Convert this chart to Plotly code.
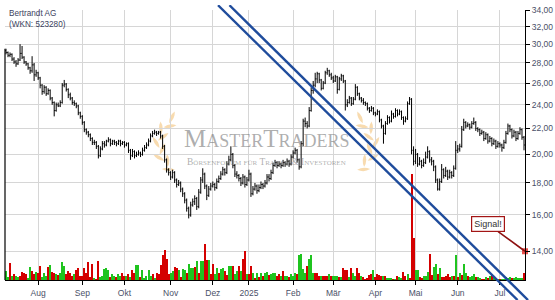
import math
import pandas as pd
import plotly.graph_objects as go

# ---------------- data ----------------
holidays = ["2024-12-24", "2024-12-25", "2024-12-26", "2024-12-31",
            "2025-01-01", "2025-04-18", "2025-04-21", "2025-05-01"]

close = [
    29.1, 28.8, 28.9, 28.4, 28.1, 27.9, 28.3, 29.0, 28.6, 28.1,
    27.9, 27.5, 27.2, 27.8, 26.8, 27.0, 26.5, 25.8, 25.2, 25.6,
    25.0, 25.3, 24.6, 24.2, 23.5, 24.0, 23.9, 24.2, 25.8, 25.9,
    25.4, 24.9, 24.6, 24.2, 24.1, 23.9, 23.3, 23.0, 22.5, 21.9,
    21.7, 21.5, 21.2, 20.9, 20.9, 20.6, 19.9, 20.4, 20.8, 20.7,
    21.0, 21.1, 20.8, 21.0, 20.9, 20.8, 21.0, 20.8, 20.9, 20.7,
    20.8, 20.3, 19.9, 20.2, 19.9, 20.0, 20.1, 20.0, 20.3, 20.5,
    20.7, 21.0, 21.4, 21.6, 21.7, 21.6, 21.7, 21.4, 20.6, 19.6,
    18.9, 18.7, 18.4, 18.7, 18.2, 17.9, 18.0, 17.6, 17.3, 16.9,
    16.4, 16.0, 16.6, 16.8, 17.0, 16.5, 17.4, 18.2, 18.6, 17.8,
    17.2, 17.6, 17.8, 17.9, 17.7, 18.1, 18.3, 18.6, 18.9, 18.7,
    19.3, 19.6, 20.0, 19.2, 18.6, 18.5, 18.3, 18.0, 18.4, 17.9,
    18.2, 18.6, 17.3, 17.6, 17.8, 17.5, 17.7, 17.9, 17.8, 18.0,
    18.4, 18.3, 18.7, 19.2, 19.4, 19.2, 19.3, 19.2, 19.4, 19.3,
    19.5, 19.3, 19.8, 20.1, 20.3, 19.6, 19.1, 20.8, 22.6, 22.4,
    22.2, 23.5, 25.3, 25.8, 26.4, 26.9, 26.3, 25.5, 26.0, 27.0,
    27.2, 26.8, 26.5, 26.2, 26.6, 25.4, 26.4, 26.7, 26.2, 24.0,
    24.2, 24.6, 24.1, 24.5, 25.6, 25.0, 24.6, 24.4, 24.2, 24.1,
    23.7, 23.5, 23.7, 23.3, 23.2, 23.4, 22.7, 22.2, 21.6, 22.4,
    22.9, 22.6, 23.2, 23.0, 23.5, 23.2, 23.4, 22.9, 22.6, 22.8,
    24.1, 24.5, 20.3, 19.5, 20.0, 19.3, 19.5, 19.2, 19.4, 19.8,
    20.2, 19.6, 19.5, 19.1, 18.2, 17.6, 18.1, 18.9, 18.5, 18.8,
    18.4, 18.7, 18.5, 19.0, 20.3, 20.4, 20.6, 21.9, 22.5, 22.2,
    22.3, 22.1, 22.4, 22.5, 22.0, 21.9, 21.6, 21.7, 21.2, 21.5,
    21.0, 21.2, 20.8, 21.0, 20.6, 20.8, 20.7, 20.5, 20.9, 21.6,
    22.2, 21.9, 21.4, 21.7, 21.2, 21.6, 21.9, 21.3, 20.7,
]

high = [
    29.5, 29.2, 29.1, 29.0, 28.6, 28.3, 28.5, 30.0, 29.8, 28.7,
    28.2, 28.0, 27.6, 28.7, 28.0, 27.3, 27.1, 26.6, 25.9, 25.8,
    25.7, 25.5, 25.4, 24.7, 24.3, 24.2, 24.2, 24.4, 26.0, 26.3,
    26.0, 25.5, 25.1, 24.7, 24.4, 24.2, 24.0, 23.4, 23.1, 22.6,
    22.0, 21.8, 21.6, 21.3, 21.1, 21.0, 20.7, 20.6, 21.0, 21.0,
    21.1, 21.3, 21.2, 21.1, 21.1, 21.0, 21.1, 21.1, 21.0, 21.0,
    20.9, 20.9, 20.4, 20.4, 20.3, 20.2, 20.3, 20.2, 20.5, 20.7,
    20.9, 21.2, 21.6, 21.8, 21.9, 21.8, 21.8, 21.8, 21.5, 20.7,
    19.7, 19.0, 18.8, 18.9, 18.8, 18.3, 18.2, 18.1, 17.7, 17.4,
    17.0, 16.5, 16.8, 17.0, 17.2, 17.1, 17.6, 18.4, 19.0, 18.7,
    17.9, 17.8, 18.0, 18.1, 18.0, 18.3, 18.5, 18.8, 19.1, 19.0,
    19.5, 19.9, 20.6, 20.1, 19.3, 18.8, 18.6, 18.4, 18.6, 18.5,
    18.4, 18.9, 18.7, 17.8, 18.0, 17.9, 17.9, 18.1, 18.0, 18.2,
    18.6, 18.6, 18.9, 19.4, 19.6, 19.5, 19.5, 19.4, 19.6, 19.5,
    19.7, 19.6, 20.0, 20.3, 20.5, 20.4, 19.7, 21.0, 22.8, 22.9,
    22.6, 23.8, 25.6, 26.2, 27.0, 27.1, 27.0, 26.4, 26.2, 27.2,
    27.5, 27.3, 27.0, 26.7, 26.8, 26.7, 26.6, 26.9, 26.8, 26.3,
    24.5, 24.8, 24.7, 24.7, 25.9, 25.7, 25.1, 24.7, 24.6, 24.3,
    24.2, 23.8, 23.9, 23.8, 23.4, 23.6, 23.5, 22.8, 22.3, 22.6,
    23.1, 23.0, 23.5, 23.3, 23.7, 23.6, 23.6, 23.5, 23.0, 23.0,
    24.3, 24.7, 24.6, 20.6, 20.4, 20.1, 19.8, 19.6, 19.7, 20.2,
    20.6, 20.3, 19.8, 19.6, 19.2, 18.3, 18.3, 19.3, 19.0, 19.1,
    18.9, 18.9, 18.8, 19.2, 21.0, 20.7, 20.8, 22.2, 22.8, 22.6,
    22.5, 22.4, 22.6, 22.9, 22.6, 22.1, 22.0, 21.9, 21.8, 21.7,
    21.6, 21.4, 21.3, 21.2, 21.1, 21.0, 20.9, 20.8, 21.1, 21.8,
    22.4, 22.3, 22.0, 21.9, 21.8, 21.8, 22.1, 22.0, 21.4,
]

low = [
    28.9, 28.6, 28.6, 28.2, 27.9, 27.6, 27.8, 28.2, 28.4, 27.9,
    27.7, 27.3, 26.9, 27.0, 26.2, 26.6, 26.3, 25.5, 24.9, 25.0,
    24.8, 24.9, 24.4, 24.0, 23.0, 23.4, 23.8, 23.8, 24.1, 25.6,
    25.2, 24.6, 24.4, 24.0, 23.9, 23.7, 23.1, 22.8, 22.3, 21.7,
    21.5, 21.3, 21.0, 20.7, 20.7, 20.4, 19.7, 19.8, 20.3, 20.5,
    20.6, 20.9, 20.6, 20.7, 20.7, 20.6, 20.7, 20.6, 20.7, 20.5,
    20.6, 20.1, 19.6, 19.8, 19.7, 19.8, 19.9, 19.8, 19.9, 20.2,
    20.4, 20.6, 20.9, 21.3, 21.5, 21.4, 21.5, 21.2, 20.4, 19.4,
    18.7, 18.5, 18.2, 18.3, 18.0, 17.7, 17.8, 17.4, 17.1, 16.7,
    16.2, 15.8, 15.9, 16.5, 16.6, 16.3, 16.4, 17.3, 18.0, 17.6,
    16.9, 17.1, 17.5, 17.7, 17.5, 17.6, 18.0, 18.2, 18.5, 18.5,
    18.6, 19.2, 19.5, 19.0, 18.4, 18.3, 18.1, 17.8, 17.9, 17.7,
    17.8, 18.1, 17.1, 17.2, 17.5, 17.3, 17.4, 17.6, 17.6, 17.7,
    17.9, 18.1, 18.2, 18.6, 19.1, 19.0, 19.1, 19.0, 19.1, 19.1,
    19.2, 19.1, 19.2, 19.7, 20.0, 19.4, 18.9, 19.0, 20.6, 22.1,
    22.0, 22.1, 23.4, 25.0, 25.6, 26.0, 26.0, 25.3, 25.4, 25.9,
    26.8, 26.6, 26.3, 26.0, 26.1, 25.0, 25.3, 26.2, 26.0, 23.5,
    23.8, 24.1, 23.9, 24.0, 24.4, 24.8, 24.4, 24.2, 24.0, 23.9,
    23.5, 23.3, 23.4, 23.1, 23.0, 23.1, 22.5, 22.0, 20.8, 21.5,
    22.3, 22.4, 22.5, 22.8, 22.9, 23.0, 23.1, 22.7, 22.3, 22.5,
    22.7, 24.0, 20.0, 19.2, 19.3, 19.1, 19.2, 19.0, 19.1, 19.3,
    19.7, 19.4, 19.2, 18.8, 18.0, 17.5, 17.5, 18.0, 18.3, 18.4,
    18.2, 18.3, 18.3, 18.4, 18.9, 20.1, 20.2, 20.5, 21.8, 22.0,
    22.1, 21.9, 22.0, 22.3, 21.8, 21.7, 21.4, 21.5, 21.0, 21.1,
    20.8, 20.9, 20.6, 20.7, 20.4, 20.5, 20.5, 20.2, 20.4, 20.8,
    21.5, 21.7, 21.2, 21.3, 21.0, 21.1, 21.5, 21.1, 20.3,
]

first_open = 29.3

volume_k = [
    10, 3, 18, 5, 7, 5, 3, 4, 9, 8,
    7, 2, 14, 10, 7, 9, 8, 15, 3, 8,
    4, 14, 16, 9, 8, 7, 6, 8, 19, 15,
    7, 10, 8, 5, 7, 11, 13, 4, 5, 13,
    8, 19, 3, 17, 2, 1, 20, 3, 4, 12,
    13, 11, 3, 7, 4, 3, 7, 5, 8, 4,
    5, 7, 3, 11, 8, 16, 16, 3, 11, 2,
    4, 11, 4, 7, 2, 8, 7, 16, 26, 31,
    22, 7, 8, 10, 14, 13, 11, 3, 12, 11,
    8, 17, 13, 13, 14, 20, 8, 20, 20, 37,
    21, 21, 7, 17, 7, 13, 8, 12, 13, 10,
    6, 15, 15, 15, 7, 10, 15, 10, 22, 30,
    7, 7, 15, 8, 2, 8, 3, 8, 5, 8,
    9, 6, 7, 8, 8, 5, 7, 4, 10, 4,
    4, 3, 7, 5, 8, 7, 26, 27, 12, 8,
    15, 22, 26, 8, 8, 8, 5, 4, 4, 5,
    4, 7, 5, 5, 5, 5, 3, 3, 13, 11,
    11, 3, 13, 8, 5, 13, 8, 4, 3, 1,
    2, 6, 7, 11, 3, 7, 6, 4, 5, 4,
    2, 2, 2, 1, 1, 4, 3, 2, 9, 4,
    7, 2, 108, 43, 11, 11, 3, 2, 4, 5,
    9, 27, 6, 14, 17, 7, 13, 3, 3, 5,
    7, 3, 5, 5, 26, 3, 8, 6, 17, 8,
    4, 3, 4, 7, 3, 3, 2, 1, 1, 3,
    2, 5, 7, 3, 1, 1, 1, 1, 1, 3,
    2, 3, 2, 2, 3, 2, 2, 2, 8,
]

volume_dir = (
    "ggrgrggrrr" "rggrrgrrgg" "grgrrgrggg" "rrrrgrrrrr" "rrrrgrrggg"
    "ggrggrggrr" "grgrrggrgg" "gggrgrrrrr" "rrggrrgrgg" "rgggrgrggr"
    "rgrrggrggr" "rggrggrgrr" "grrgrgrgrg" "grgggrrgrg" "grgggrgggg"
    "rgggrrrgrr" "rgrgggrgrr" "rgrggrrgrr" "rrrgrrrrgr" "gggrgrggrr"
    "grrrggrrgg" "grrggrgrrr" "rrgrgrgrgg" "rgggrggrrg" "rgrgrgrggg"
    "ggrgggggr"
)

month_starts = ["2024-08-01", "2024-09-01", "2024-10-01", "2024-11-01", "2024-12-01",
                "2025-01-01", "2025-02-01", "2025-03-01", "2025-04-01", "2025-05-01",
                "2025-06-01", "2025-07-01"]
month_labels = ["Aug", "Sep", "Okt", "Nov", "Dez", "2025", "Feb", "Mär", "Apr", "Mai", "Jun", "Jul"]

price_ticks = [14, 16, 18, 20, 22, 24, 26, 28, 30, 32, 34]
price_ticktext = ["14,00", "16,00", "18,00", "20,00", "22,00", "24,00",
                  "26,00", "28,00", "30,00", "32,00", "34,00"]

# trend channel anchors: (trading-day index, price)
channel_lower_x = [105.6, 254.8]
channel_lower_y = [34.62, 11.70]
channel_upper_x = [111.3, 260.0]
channel_upper_y = [34.62, 11.70]

signal_price = 14.0

# ---------------- build ----------------
n = len(close)
all_days = [d for d in pd.bdate_range("2024-07-10", "2025-09-30")
            if d.strftime("%Y-%m-%d") not in holidays]
dates = all_days[:n]
x_idx = list(range(n))
opens = [first_open] + close[:-1]

month_idx = []
for ms in month_starts:
    t = pd.Timestamp(ms)
    month_idx.append(next(i for i, d in enumerate(dates) if d >= t))

vol = (volume_k + [0] * n)[:n]
dirs = (volume_dir + "g" * n)[:n]
vol_colors = ["#1fc41f" if c == "g" else "#d40000" for c in dirs]

W, H = 555, 300
PL, PR, PT, PB = 5, 525, 5, 280   # plot box in pixels
x_rng = [-0.5, n - 0.5]
y_rng = [math.log10(12.58), math.log10(34.03)]
sx = (x_rng[1] - x_rng[0]) / (PR - PL)
sy = (y_rng[1] - y_rng[0]) / (PB - PT)
x3_rng = [x_rng[0] - PL * sx, x_rng[1] + (W - PR) * sx]
y3_rng = [y_rng[0] - (H - PB) * sy, y_rng[1] + PT * sy]

fig = go.Figure()

fig.add_trace(go.Ohlc(
    x=x_idx, open=opens, high=high, low=low, close=close,
    increasing=dict(line=dict(color="black", width=1)),
    decreasing=dict(line=dict(color="black", width=1)),
    tickwidth=0.4, hoverinfo="skip", xaxis="x", yaxis="y",
))

fig.add_trace(go.Bar(
    x=x_idx, y=vol, marker=dict(color=vol_colors, line=dict(width=0)),
    width=0.55, hoverinfo="skip", xaxis="x", yaxis="y2",
))

chan_color = "#1f4c9c"
for cx, cy in [(channel_lower_x, channel_lower_y), (channel_upper_x, channel_upper_y)]:
    fig.add_trace(go.Scatter(
        x=cx, y=cy, mode="lines", line=dict(color=chan_color, width=2.4),
        hoverinfo="skip", xaxis="x3", yaxis="y3",
    ))

fig.add_trace(go.Scatter(
    x=[x_rng[1]], y=[signal_price], mode="markers",
    marker=dict(symbol="square", size=6, color="#e8504a", line=dict(width=0)),
    cliponaxis=False, hoverinfo="skip", xaxis="x", yaxis="y",
))

axis_font = dict(family="Arial, Liberation Sans", size=8.5, color="#4a5068")

fig.update_layout(
    width=W, height=H, margin=dict(l=0, r=0, t=0, b=0),
    paper_bgcolor="white", plot_bgcolor="rgba(0,0,0,0)",
    showlegend=False, hovermode=False, bargap=0,
    xaxis=dict(domain=[PL / W, PR / W], range=x_rng, anchor="y",
               tickmode="array", tickvals=month_idx, ticktext=month_labels,
               showgrid=True, gridcolor="#d6d6d6", gridwidth=1,
               showline=True, linecolor="black", linewidth=1,
               ticks="outside", ticklen=4, tickcolor="black",
               tickfont=axis_font, zeroline=False,
               rangeslider=dict(visible=False), fixedrange=True),
    yaxis=dict(domain=[1 - PB / H, 1 - PT / H], type="log", range=y_rng,
               anchor="x", side="right",
               tickmode="array", tickvals=price_ticks, ticktext=price_ticktext,
               showgrid=True, gridcolor="#d6d6d6", gridwidth=1,
               showline=True, linecolor="black", linewidth=1,
               ticks="outside", ticklen=4, tickcolor="black",
               tickfont=axis_font, zeroline=False, fixedrange=True),
    yaxis2=dict(overlaying="y", range=[0, PB - PT], visible=False, anchor="x"),
    xaxis3=dict(domain=[0, 1], range=x3_rng, visible=False, anchor="y3"),
    yaxis3=dict(domain=[0, 1], type="log", range=y3_rng, visible=False, anchor="x3"),
)

# left border line from first bar down to the axis
fig.add_shape(type="line", xref="paper", yref="y",
              x0=PL / W, x1=PL / W, y0=10 ** y_rng[0], y1=high[0],
              line=dict(color="black", width=1.2), layer="above")

# watermark laurels (decorative)
def leaf(cx, cy, ang, L=13.0, Wd=3.6):
    a = math.radians(ang)
    dx, dy = math.cos(a) * L / 2, math.sin(a) * L / 2
    nx, ny = -math.sin(a) * Wd, math.cos(a) * Wd
    pts = [(cx - dx, cy - dy), (cx + nx, cy + ny), (cx + dx, cy + dy), (cx - nx, cy - ny)]
    P = [(px / W, 1 - py / H) for px, py in pts]
    return (f"M {P[0][0]:.5f},{P[0][1]:.5f} Q {P[1][0]:.5f},{P[1][1]:.5f} {P[2][0]:.5f},{P[2][1]:.5f} "
            f"Q {P[3][0]:.5f},{P[3][1]:.5f} {P[0][0]:.5f},{P[0][1]:.5f} Z")

for side in (1, -1):
    for j, th in enumerate([128, 142, 156, 170, 184, 198, 212, 226, 240]):
        r = 26 + (6 if j % 2 == 0 else 0)
        t = math.radians(th)
        cx, cy = 188 + r * math.cos(t), 142 + r * math.sin(t)
        tang = th + 90 + (-35 if j % 2 == 0 else 35)
        if side == -1:
            cx = 532 - cx
            tang = 180 - tang
        fig.add_shape(type="path", xref="paper", yref="paper", path=leaf(cx, cy, tang),
                      fillcolor="#f6cf94", line=dict(width=0), opacity=0.75, layer="between")

fig.add_annotation(xref="paper", yref="paper", x=267 / W, y=1 - 136 / H,
                   text="MasterTraders", showarrow=False, xanchor="center", yanchor="middle",
                   font=dict(family="Liberation Serif, serif", size=25, color="rgba(120,120,120,0.6)",
                             variant="small-caps"))
fig.add_annotation(xref="paper", yref="paper", x=266 / W, y=1 - 160 / H,
                   text="Börsenforum für Trader & Investoren", showarrow=False,
                   xanchor="center", yanchor="middle",
                   font=dict(family="Liberation Serif, serif", size=9.5, color="rgba(120,120,120,0.6)",
                             variant="small-caps"))

fig.add_annotation(xref="paper", yref="paper", x=7 / W, y=1 - 2 / H,
                   text="Bertrandt AG<br>(WKN: 523280)", showarrow=False, align="left",
                   xanchor="left", yanchor="top",
                   font=dict(family="Arial, Liberation Sans", size=8.2, color="#3c3f5e"))

fig.add_annotation(xref="x", yref="y", x=x_rng[1], y=math.log10(signal_price),
                   text="Signal!", showarrow=True, arrowhead=0, arrowwidth=1.6,
                   arrowcolor="#8e1212", ax=-37, ay=-27, standoff=0,
                   bgcolor="white", bordercolor="#a31515", borderwidth=1.2, borderpad=2,
                   font=dict(family="Arial, Liberation Sans", size=9, color="#333333"))

fig.write_html("out.html")
